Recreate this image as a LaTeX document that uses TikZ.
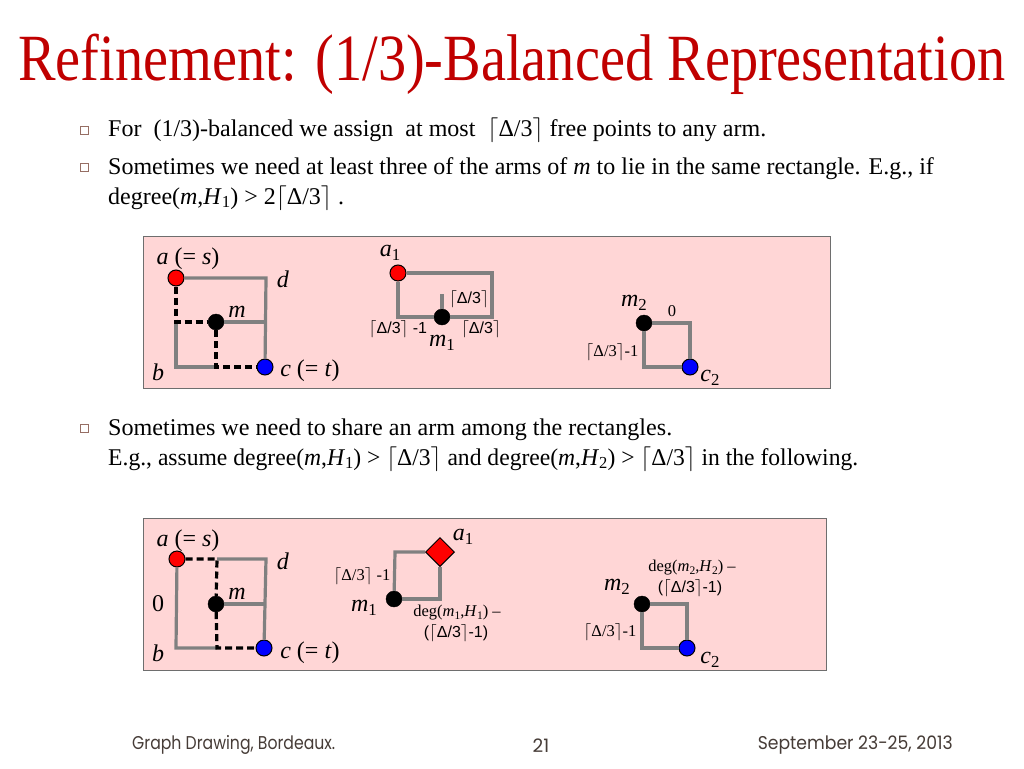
\documentclass[tikz,border=0pt]{standalone}
\usepackage{fontspec}
\usepackage{graphicx}
\setmainfont{Liberation Serif}
\setsansfont{Liberation Sans}
\newfontfamily\footfont{Poppins}
\usetikzlibrary{shapes.geometric}
\definecolor{titlered}{RGB}{192,0,0}
\definecolor{panelpink}{RGB}{255,214,214}
\definecolor{panelline}{RGB}{110,110,110}
\definecolor{armgray}{RGB}{128,128,128}
\definecolor{footgray}{RGB}{70,60,55}
\definecolor{bulletc}{RGB}{150,110,100}
\newcommand{\ceilD}{$\lceil$Δ/3$\rceil$}
\newcommand{\lowsub}[1]{\raisebox{-0.35ex}{\scalebox{0.7}{#1}}}
\begin{document}
\begin{tikzpicture}[x=1pt,y=-1pt,
  redv/.style={circle,fill=red,draw=black,line width=1pt,minimum size=16pt,inner sep=0pt},
  bluev/.style={circle,fill=blue,draw=black,line width=1pt,minimum size=16pt,inner sep=0pt},
  blackv/.style={circle,fill=black,draw=black,minimum size=16pt,inner sep=0pt},
  reddiam/.style={diamond,fill=red,draw=black,line width=1pt,minimum size=29pt,inner sep=0pt},
  arm/.style={draw=armgray,line width=3.2pt},
  route/.style={draw=black,line width=3.2pt,dash pattern=on 7pt off 4pt},
  lbl/.style={inner sep=0pt,font=\fontsize{24}{28}\selectfont},
  small/.style={inner sep=0pt,font=\fontsize{16.5}{19}\selectfont},
  smallsf/.style={inner sep=0pt,font=\sffamily\fontsize{16}{19}\selectfont},
  body/.style={anchor=base west,inner sep=0pt,font=\fontsize{24}{28}\selectfont},
  bulletbox/.style={draw=bulletc,fill=white,line width=0.8pt,minimum size=8pt,inner sep=0pt},
  panel/.style={draw=panelline,fill=panelpink,line width=1pt},
  foot/.style={inner sep=0pt,text=footgray,font=\footfont\fontsize{18.5}{21}\selectfont}]
\useasboundingbox (0,0) rectangle (1024,768);
\fill[white] (0,0) rectangle (1024,768);

% title
\node[anchor=base west,inner sep=0pt,text=titlered,font=\fontsize{66}{78}\selectfont] (title) at (18,80)
  {\resizebox{987pt}{\height}{Refinement: (1/3)-Balanced Representation}};

% bullets
\node[bulletbox] (b1) at (84,130) {};
\node[body] (t1) at (108,136) {For\ \ (1/3)-balanced we assign\ \ at most\ \ \ceilD{} free points to any arm.};
\node[bulletbox] (b2) at (84,167) {};
\node[body] (t2) at (108,174) {Sometimes we need at least three of the arms of \textit{m} to lie in the same rectangle. E.g., if};
\node[body] (t3) at (108,204) {degree(\textit{m},\textit{H}\lowsub{1}) > 2\ceilD{} .};
\node[bulletbox] (b3) at (84,428) {};
\node[body] (t4) at (108,435) {\resizebox{564pt}{\height}{Sometimes we need to share an arm among the rectangles.}};
\node[body] (t5) at (108,465) {\resizebox{750pt}{\height}{E.g., assume degree(\textit{m},\textit{H}\lowsub{1}) > \ceilD{} and degree(\textit{m},\textit{H}\lowsub{2}) > \ceilD{} in the following.}};

% panels
\path[panel] (143,236) rectangle (830,388);
\path[panel] (143,518) rectangle (826,670);

% ---------- panel 1, shape 1
\node[redv] (pa) at (176,278) {};
\coordinate (pd) at (266,278);
\coordinate (pb) at (176,367);
\node[bluev] (pc) at (265,367) {};
\node[blackv] (pm) at (216,322) {};
\coordinate (pl) at (176,322);
\coordinate (pr) at (266,322);
\coordinate (pbm) at (216,367);
\draw[arm] (pa) -- (pd) -- (pc);
\draw[arm] (pl) -- (pb) -- (pbm);
\draw[arm] (pm) -- (pr);
\draw[route] (pa) -- (pl) -- (pm);
\draw[route] (pm) -- (pbm) -- (pc);
\node[lbl] (la) at (188,259) {\textit{a} (= \textit{s})};
\node[lbl] (ld) at (283,279) {\textit{d}};
\node[lbl] (lm) at (237,312) {\textit{m}};
\node[lbl] (lb) at (158,372) {\textit{b}};
\node[lbl] (lc) at (310,371) {\textit{c} (= \textit{t})};

% ---------- panel 1, shape 2
\node[redv] (qa) at (398,273) {};
\coordinate (qtr) at (492,273);
\coordinate (qbr) at (492,317);
\coordinate (qbl) at (398,317);
\node[blackv] (qm) at (442,317) {};
\coordinate (qst) at (442,294);
\draw[arm] (qa) -- (qtr) -- (qbr) -- (qm);
\draw[arm] (qa) -- (qbl) -- (qm);
\draw[arm] (qm) -- (qst);
\node[lbl] (lqa) at (390,253) {\textit{a}\lowsub{1}};
\node[smallsf] (lq1) at (469,299) {\ceilD};
\node[smallsf] (lq2) at (398,329) {\ceilD{} -1};
\node[smallsf] (lq3) at (481,329) {\ceilD};
\node[lbl] (lqm) at (442,343) {\textit{m}\lowsub{1}};

% ---------- panel 1, shape 3
\node[blackv] (rm) at (644,323) {};
\coordinate (rtr) at (690,323);
\node[bluev] (rc) at (690,367) {};
\coordinate (rbl) at (644,367);
\draw[arm] (rm) -- (rtr) -- (rc);
\draw[arm] (rm) -- (rbl) -- (rc);
\node[lbl] (lrm) at (634,303) {\textit{m}\lowsub{2}};
\node[small] (lr0) at (672,311) {0};
\node[small] (lr1) at (612,352) {\ceilD-1};
\node[lbl] (lrc) at (710,378) {\textit{c}\lowsub{2}};

% ---------- panel 2, shape 1
\node[redv] (sa) at (177,559) {};
\coordinate (stm) at (217,559);
\coordinate (sd) at (266,559);
\node[bluev] (sc) at (264,648) {};
\coordinate (sb) at (176,648);
\coordinate (sbm) at (217,648);
\node[blackv] (sm) at (216,604) {};
\coordinate (sr) at (266,604);
\draw[arm] (stm) -- (sd) -- (sc);
\draw[arm] (sa) -- (sb) -- (sbm);
\draw[arm] (sm) -- (sr);
\draw[route] (sa) -- (stm) -- (sm);
\draw[route] (sm) -- (sbm) -- (sc);
\node[lbl] (lsa) at (188,541) {\textit{a} (= \textit{s})};
\node[lbl] (lsd) at (283,561) {\textit{d}};
\node[lbl] (lsm) at (237,594) {\textit{m}};
\node[lbl] (ls0) at (158,604) {0};
\node[lbl] (lsb) at (158,653) {\textit{b}};
\node[lbl] (lsc) at (310,653) {\textit{c} (= \textit{t})};

% ---------- panel 2, shape 2
\node[reddiam] (ua) at (440,552) {};
\coordinate (utl) at (395,552);
\node[blackv] (um) at (394,599) {};
\coordinate (ubr) at (440,599);
\draw[arm] (ua) -- (utl) -- (um);
\draw[arm] (um) -- (ubr) -- (ua);
\node[lbl] (lua) at (463,537) {\textit{a}\lowsub{1}};
\node[small] (lu1) at (362,576) {\ceilD{} -1};
\node[lbl] (lum) at (364,608) {\textit{m}\lowsub{1}};
\node[small] (lu2) at (457,613) {deg(\textit{m}\lowsub{1},\textit{H}\lowsub{1}) –};
\node[smallsf] (lu3) at (456,633) {(\ceilD-1)};

% ---------- panel 2, shape 3
\node[blackv] (vm) at (642,604) {};
\coordinate (vtr) at (687,604);
\node[bluev] (vc) at (687,648) {};
\coordinate (vbl) at (642,648);
\draw[arm] (vm) -- (vtr) -- (vc);
\draw[arm] (vm) -- (vbl) -- (vc);
\node[small] (lv1) at (692,568) {deg(\textit{m}\lowsub{2},\textit{H}\lowsub{2}) –};
\node[smallsf] (lv2) at (690,588) {(\ceilD-1)};
\node[lbl] (lvm) at (617,587) {\textit{m}\lowsub{2}};
\node[small] (lv3) at (610,632) {\ceilD-1};
\node[lbl] (lvc) at (710,660) {\textit{c}\lowsub{2}};

% footer
\node[foot,anchor=west] (f1) at (132,745) {\resizebox{203pt}{\height}{Graph Drawing, Bordeaux.}};
\node[foot] (f2) at (541,746) {21};
\node[foot,anchor=east] (f3) at (953,745) {\resizebox{195pt}{\height}{September 23-25, 2013}};
\end{tikzpicture}
\end{document}
